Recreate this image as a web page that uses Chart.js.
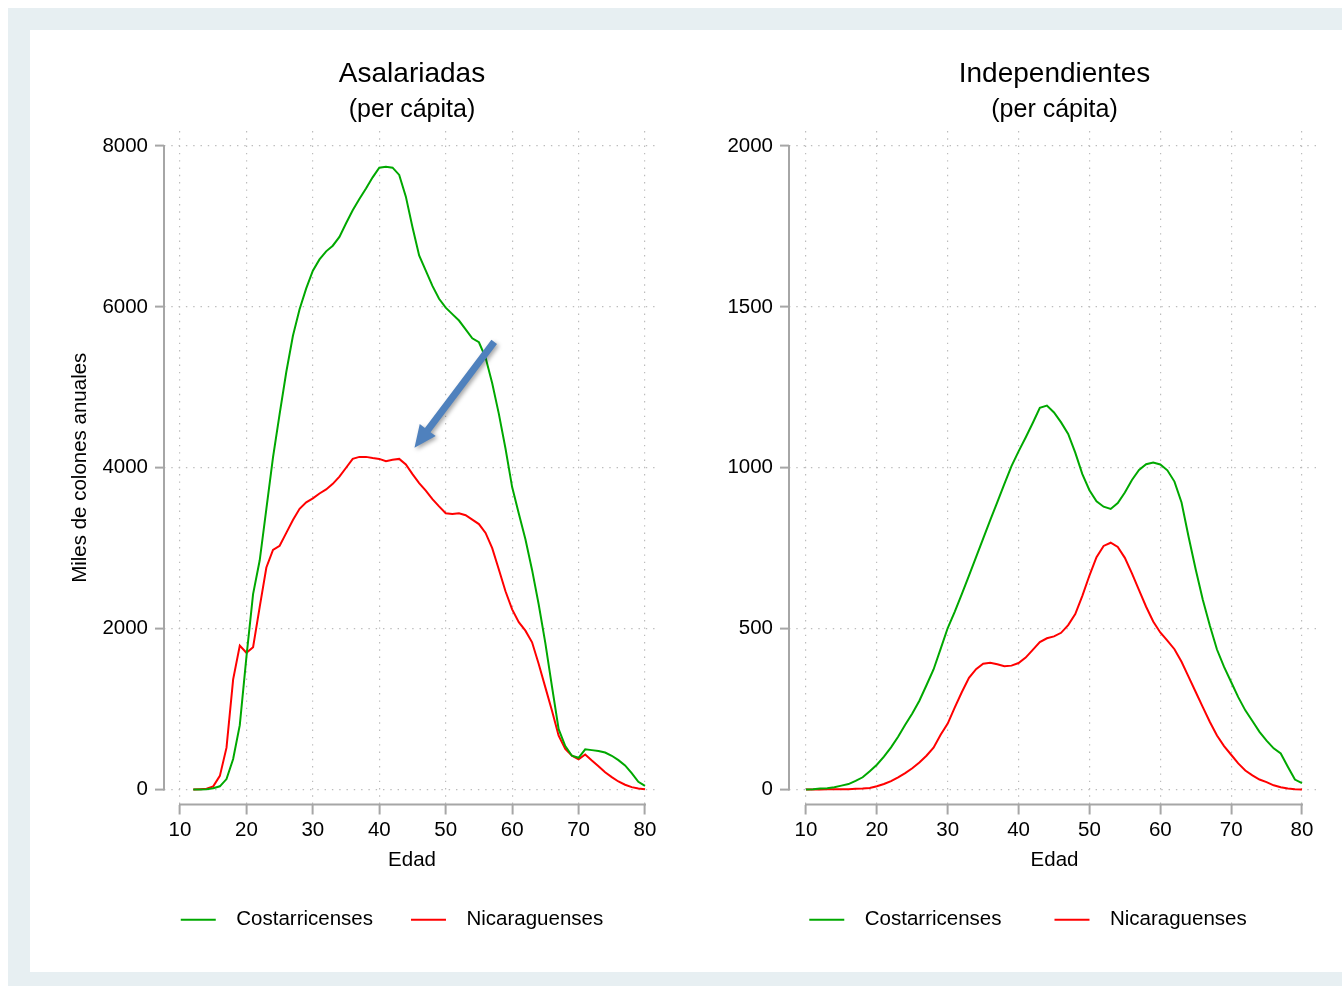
<!DOCTYPE html>
<html>
<head>
<meta charset="utf-8">
<script src="https://cdn.jsdelivr.net/npm/chart.js@4.4.1/dist/chart.umd.min.js"></script>
<style>
  html, body { margin: 0; padding: 0; background: #fff; }
  #frame { position: absolute; left: 8px; top: 8px; width: 1334px; height: 978px; background: #e7eff2; }
  #panel { position: absolute; left: 30px; top: 30px; width: 1312px; height: 942px; background: #fff; }
  canvas { position: absolute; top: 30px; }
  #c1 { left: 30px; }
  #c2 { left: 714px; }
</style>
</head>
<body>
<div id="frame"></div>
<div id="panel"></div>
<canvas id="c1" width="724" height="942"></canvas>
<canvas id="c2" width="628" height="942"></canvas>
<script>
// ---- data ----
const ageAsal = [12,13,14,15,16,17,18,19,20,21,22,23,24,25,26,27,28,29,30,31,32,33,34,35,36,37,38,39,40,
  41,42,43,44,45,46,47,48,49,50,51,52,53,54,55,56,57,58,59,60,61,62,63,64,65,66,67,68,69,70,
  71,72,73,74,75,76,77,78,79,80];
const asalCR = [0,0,5,15,40,130,380,800,1650,2430,2850,3490,4130,4670,5190,5640,5970,6230,6450,
  6590,6690,6760,6870,7040,7200,7340,7470,7610,7730,7740,7730,7640,7370,6990,6640,6450,6260,6100,5990,
  5910,5830,5720,5610,5560,5370,5050,4670,4240,3760,3430,3110,2730,2300,1820,1280,750,540,420,395,
  500,490,480,460,420,365,300,205,97,45];
const asalNI = [0,5,10,40,170,520,1370,1790,1700,1770,2270,2760,2980,3030,3190,3350,3490,3570,3620,
  3680,3730,3800,3890,4000,4110,4135,4135,4120,4110,4080,4100,4110,4040,3920,3810,3715,3610,3520,3435,
  3425,3435,3410,3355,3300,3190,3000,2735,2465,2240,2080,1975,1830,1560,1270,980,670,505,420,375,
  435,360,290,215,155,100,60,30,12,3];

const ageIndep = [10,11,12,13,14,15,16,17,18,19,20,21,22,23,24,25,26,27,28,29,30,31,32,33,34,35,36,37,38,39,40,
  41,42,43,44,45,46,47,48,49,50,51,52,53,54,55,56,57,58,59,60,61,62,63,64,65,66,67,68,69,70,
  71,72,73,74,75,76,77,78,79,80];
const indepCR = [0,1,3,4,7,12,17,27,38,57,77,102,131,164,201,236,276,324,373,437,502,553,608,665,722,
  780,837,893,950,1005,1051,1094,1139,1186,1193,1172,1141,1105,1047,980,930,896,879,872,890,923,
  962,993,1011,1016,1010,992,957,892,785,684,590,509,435,381,334,287,246,213,179,152,128,112,71,31,20];
const indepNI = [0,0,0,1,1,1,1,2,3,5,10,17,26,38,51,66,84,105,130,170,205,255,303,347,374,391,394,389,
  383,385,393,410,434,458,470,476,487,511,545,602,665,722,757,767,754,720,672,620,568,522,488,463,436,
  397,350,303,256,210,168,135,108,81,59,44,31,23,13,7,3,1,0];

const xTicks = [10, 20, 30, 40, 50, 60, 70, 80];
const yTicksAsal = [0, 2000, 4000, 6000, 8000];
const yTicksIndep = [0, 500, 1000, 1500, 2000];
const seriesNames = ['Costarricenses', 'Nicaraguenses'];

// arrow annotation (data coordinates, left panel)
const arrowFrom = { x: 57.3, y: 5565 };
const arrowTo = { x: 45.3, y: 4250 };

const GREEN = 'rgb(0,168,0)';
const RED = 'rgb(255,0,0)';
const AXIS = '#a6a6a6';
const FS = 20.5;

Chart.defaults.font.family = "'Liberation Sans', Arial, Helvetica, sans-serif";
Chart.defaults.color = '#000';

const pts = (xs, ys) => xs.map((x, i) => ({ x: x, y: ys[i] }));

// axis lines only spanning first..last tick, offset from the plot like the original
const axisLines = {
  id: 'axisLines',
  beforeDatasetsDraw(chart) {
    const { ctx, chartArea, scales } = chart;
    const x = scales.x, y = scales.y;
    const yt = chart.options.plugins.axisLines.yTicks;
    ctx.save();
    ctx.strokeStyle = AXIS;
    ctx.lineWidth = 2;
    ctx.beginPath();
    ctx.moveTo(chartArea.left, y.getPixelForValue(yt[0]) + 1);
    ctx.lineTo(chartArea.left, y.getPixelForValue(yt[yt.length - 1]) - 1);
    ctx.moveTo(x.getPixelForValue(xTicks[0]) - 1, chartArea.bottom);
    ctx.lineTo(x.getPixelForValue(xTicks[xTicks.length - 1]) + 1, chartArea.bottom);
    ctx.stroke();
    ctx.restore();
  }
};

const arrowPlugin = {
  id: 'arrow',
  afterDatasetsDraw(chart) {
    const opts = chart.options.plugins.arrow;
    if (!opts || !opts.show) return;
    const { ctx, scales } = chart;
    const x0 = scales.x.getPixelForValue(arrowFrom.x), y0 = scales.y.getPixelForValue(arrowFrom.y);
    const x1 = scales.x.getPixelForValue(arrowTo.x), y1 = scales.y.getPixelForValue(arrowTo.y);
    const ang = Math.atan2(y1 - y0, x1 - x0);
    const len = Math.hypot(x1 - x0, y1 - y0);
    const head = 22, hw = 10, sw = 3.5;
    ctx.save();
    ctx.translate(x0, y0);
    ctx.rotate(ang);
    ctx.shadowColor = 'rgba(0,0,0,0.35)';
    ctx.shadowBlur = 4;
    ctx.shadowOffsetX = 2;
    ctx.shadowOffsetY = 2;
    ctx.fillStyle = '#4f81bd';
    ctx.beginPath();
    ctx.moveTo(0, -sw);
    ctx.lineTo(len - head, -sw);
    ctx.lineTo(len - head, -hw);
    ctx.lineTo(len, 0);
    ctx.lineTo(len - head, hw);
    ctx.lineTo(len - head, sw);
    ctx.lineTo(0, sw);
    ctx.closePath();
    ctx.fill();
    ctx.restore();
  }
};

function makeChart(id, cfg) {
  const datasets = [
    { label: seriesNames[0], data: pts(cfg.ages, cfg.cr), borderColor: GREEN, backgroundColor: GREEN },
    { label: seriesNames[1], data: pts(cfg.ages, cfg.ni), borderColor: RED, backgroundColor: RED }
  ].map(d => Object.assign(d, { borderWidth: 2, pointRadius: 0, tension: 0, fill: false }));

  // legend padding also pads vertically, so the x-axis box absorbs the difference
  const xHeight = 65 - (cfg.legendGap - 40);

  return new Chart(document.getElementById(id), {
    type: 'line',
    data: { datasets },
    plugins: [axisLines, arrowPlugin],
    options: {
      responsive: false,
      animation: false,
      events: [],
      layout: { padding: { left: 0, right: 0, top: 0, bottom: 32 } },
      plugins: {
        axisLines: { yTicks: cfg.yTicks },
        arrow: { show: cfg.arrow },
        tooltip: { enabled: false },
        title: {
          display: true, text: cfg.title, fullSize: false,
          font: { size: 28, weight: 'normal' }, color: '#000',
          padding: { top: 27.2, bottom: 0 }
        },
        subtitle: {
          display: true, text: '(per cápita)', fullSize: false,
          font: { size: 25 }, color: '#000',
          padding: { top: 4.2, bottom: 6 }
        },
        legend: {
          position: 'bottom',
          labels: {
            font: { size: FS }, color: '#000',
            usePointStyle: true, pointStyle: 'line', pointStyleWidth: 35,
            padding: cfg.legendGap,
            generateLabels(chart) {
              return Chart.defaults.plugins.legend.labels.generateLabels(chart)
                .map(l => Object.assign(l, { text: '\u2002' + l.text }));
            }
          }
        }
      },
      scales: {
        x: {
          type: 'linear', min: cfg.xMin, max: cfg.xMax,
          afterBuildTicks: s => { s.ticks = xTicks.map(v => ({ value: v })); },
          afterFit: s => { s.height = xHeight; },
          ticks: { font: { size: FS }, color: '#000', padding: 4, autoSkip: false, maxRotation: 0, callback: v => String(v) },
          grid: { color: '#bcbcbc', lineWidth: 1.2, drawTicks: true, tickLength: 10, tickColor: AXIS, tickWidth: 2 },
          border: { display: false, dash: [1.4, 5.9] },
          title: { display: true, text: 'Edad', font: { size: FS }, color: '#000', padding: { top: 0, bottom: xHeight - 68.3 } }
        },
        y: {
          type: 'linear', min: cfg.yMin, max: cfg.yMax,
          afterBuildTicks: s => { s.ticks = cfg.yTicks.map(v => ({ value: v })); },
          afterFit: s => { s.width = cfg.yWidth; },
          ticks: { font: { size: FS }, color: '#000', padding: 7, callback: v => String(v) },
          grid: { color: '#bcbcbc', lineWidth: 1.2, drawTicks: true, tickLength: 9, tickColor: AXIS, tickWidth: 2 },
          border: { display: false, dash: [1.4, 5.9] },
          title: {
            display: !!cfg.yTitle, text: cfg.yTitle || '', font: { size: FS }, color: '#000',
            padding: { top: 38.5, bottom: 0 }
          }
        },
        yR: {
          type: 'linear', position: 'right', display: true,
          afterFit: s => { s.width = cfg.rightWidth; },
          ticks: { display: false },
          grid: { display: false },
          border: { display: false }
        }
      }
    }
  });
}

makeChart('c1', {
  ages: ageAsal, cr: asalCR, ni: asalNI, title: 'Asalariadas',
  yTicks: yTicksAsal, yMin: -186, yMax: 8186, xMin: 7.59, xMax: 82.26,
  yWidth: 134, rightWidth: 94, yTitle: 'Miles de colones anuales', arrow: true, legendGap: 38
});
makeChart('c2', {
  ages: ageIndep, cr: indepCR, ni: indepNI, title: 'Independientes',
  yTicks: yTicksIndep, yMin: -46.6, yMax: 2046.6, xMin: 7.6, xMax: 82.54,
  yWidth: 75, rightWidth: 22, yTitle: '', arrow: false, legendGap: 53
});
</script>
</body>
</html>
